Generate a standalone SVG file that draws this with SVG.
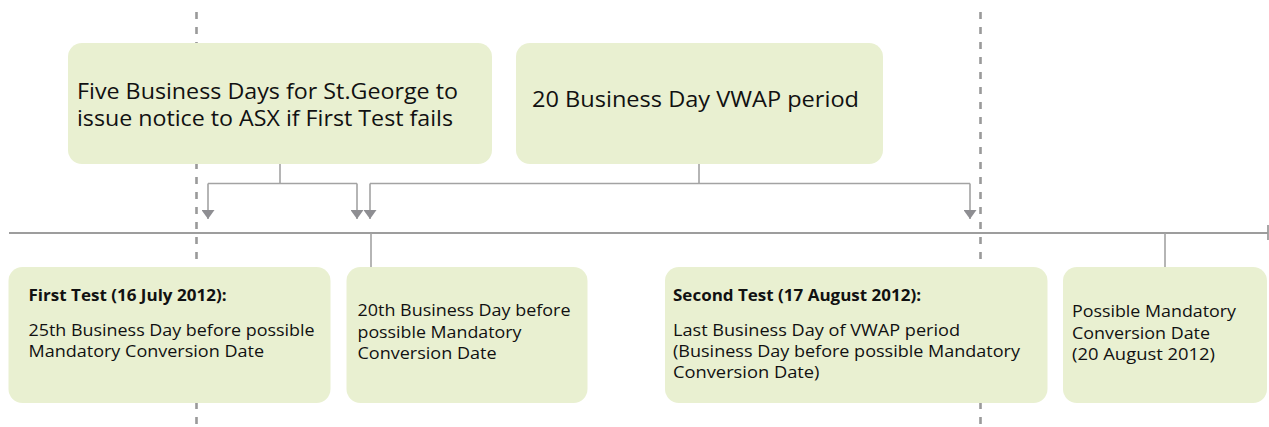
<svg xmlns="http://www.w3.org/2000/svg" width="1269" height="427" viewBox="0 0 1269 427">
<style>
.box{fill:#e9f0d1;}
.dash{stroke:#9a9a9a;stroke-width:2.6;stroke-dasharray:7 8;fill:none;}
.conn{stroke:#a3a3a3;stroke-width:1.6;fill:none;}
.axis{stroke:#9d9d9d;stroke-width:1.8;fill:none;}
.big{font-family:"Open Sans","Liberation Sans",sans-serif;font-size:21px;fill:#111;}
.sm{font-family:"Open Sans","Liberation Sans",sans-serif;font-size:16.5px;fill:#111;}
.bold{font-family:"Open Sans","Liberation Sans",sans-serif;font-size:16.5px;font-weight:bold;fill:#111;}
</style>
<defs>
<marker id="ah" markerWidth="13" markerHeight="9" refX="6.5" refY="9" orient="0" markerUnits="userSpaceOnUse">
<path d="M0,0 L13,0 L6.5,9 Z" fill="#8e8e92"/>
</marker>
</defs>
<g id="guides">
<line class="dash" x1="196.5" y1="12" x2="196.5" y2="427"/>
<line class="dash" x1="980.5" y1="12" x2="980.5" y2="427"/>
</g>
<g id="connectors">
<line class="axis" x1="9" y1="233" x2="1268" y2="233"/>
<line class="axis" x1="1268" y1="225" x2="1268" y2="240"/>
<path class="conn" d="M280,164 V183.5 M208,183.5 H357"/>
<path class="conn" d="M208,183.5 V219" marker-end="url(#ah)"/>
<path class="conn" d="M357,183.5 V219" marker-end="url(#ah)"/>
<path class="conn" d="M699,164 V183.5 M370,183.5 H970"/>
<path class="conn" d="M370,183.5 V219" marker-end="url(#ah)"/>
<path class="conn" d="M970,183.5 V219" marker-end="url(#ah)"/>
<line class="conn" x1="371" y1="233" x2="371" y2="267"/>
<line class="conn" x1="1165" y1="233" x2="1165" y2="267"/>
</g>
<g id="node-five-days">
<rect class="box" x="68" y="43" width="424" height="121" rx="14"/>
<text class="big" x="77" y="99" textLength="381" lengthAdjust="spacingAndGlyphs">Five Business Days for St.George to</text>
<text class="big" x="77" y="126" textLength="376" lengthAdjust="spacingAndGlyphs">issue notice to ASX if First Test fails</text>
</g>
<g id="node-vwap">
<rect class="box" x="516" y="43" width="367" height="121" rx="14"/>
<text class="big" x="532" y="107" textLength="327" lengthAdjust="spacingAndGlyphs">20 Business Day VWAP period</text>
</g>
<g id="node-first-test">
<rect class="box" x="8.5" y="267" width="322" height="136" rx="14"/>
<text class="bold" x="28.5" y="301" textLength="198" lengthAdjust="spacingAndGlyphs">First Test (16 July 2012):</text>
<text class="sm" x="28.5" y="336" textLength="286" lengthAdjust="spacingAndGlyphs">25th Business Day before possible</text>
<text class="sm" x="28.5" y="357" textLength="235.5" lengthAdjust="spacingAndGlyphs">Mandatory Conversion Date</text>
</g>
<g id="node-20th">
<rect class="box" x="346.5" y="267" width="241" height="136" rx="14"/>
<text class="sm" x="357.5" y="316" textLength="213" lengthAdjust="spacingAndGlyphs">20th Business Day before</text>
<text class="sm" x="357.5" y="337.5" textLength="164" lengthAdjust="spacingAndGlyphs">possible Mandatory</text>
<text class="sm" x="357.5" y="358.5" textLength="139" lengthAdjust="spacingAndGlyphs">Conversion Date</text>
</g>
<g id="node-second-test">
<rect class="box" x="665" y="267" width="382.5" height="136" rx="14"/>
<text class="bold" x="673" y="301" textLength="248" lengthAdjust="spacingAndGlyphs">Second Test (17 August 2012):</text>
<text class="sm" x="673" y="336" textLength="287" lengthAdjust="spacingAndGlyphs">Last Business Day of VWAP period</text>
<text class="sm" x="673" y="357" textLength="347" lengthAdjust="spacingAndGlyphs">(Business Day before possible Mandatory</text>
<text class="sm" x="673" y="378" textLength="146.5" lengthAdjust="spacingAndGlyphs">Conversion Date)</text>
</g>
<g id="node-mandatory">
<rect class="box" x="1063" y="267" width="204" height="136" rx="14"/>
<text class="sm" x="1072" y="317" textLength="164" lengthAdjust="spacingAndGlyphs">Possible Mandatory</text>
<text class="sm" x="1072" y="338.5" textLength="138" lengthAdjust="spacingAndGlyphs">Conversion Date</text>
<text class="sm" x="1072" y="360" textLength="143" lengthAdjust="spacingAndGlyphs">(20 August 2012)</text>
</g>
</svg>
